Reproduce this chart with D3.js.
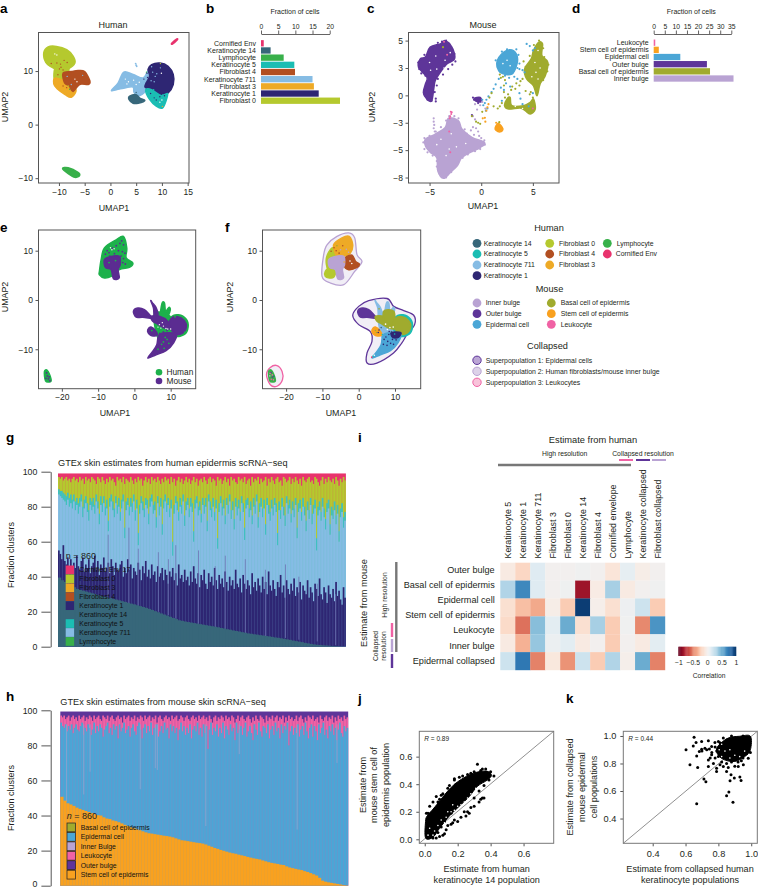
<!DOCTYPE html>
<html>
<head>
<meta charset="utf-8">
<script src="https://cdn.jsdelivr.net/npm/d3@7"></script>
<style>
  body { margin: 0; background: #fff; }
  text { font-family: "Liberation Sans", Arial, sans-serif; fill: #231f20; }
</style>
</head>
<body>
<script>
// ---- colours by cell population
const col = {
  k14: "#37677A", k5: "#1BBDB3", k711: "#86BCE4", k1: "#2E2673",
  f0: "#B5C92E", f4: "#B24F21", f3: "#EEAA26", lymph: "#38B04A", corn: "#E8336D",
  inner: "#B9A3D3", outer: "#5E3599", epi: "#4BA6D6", basal: "#A0AB2E", stem: "#F9A11F", leuk: "#F062A4",
  human: "#1DB14B", mouse: "#5B2C91"
};

// ---- panel b / d bars
const humanCats = ["Cornified Env", "Keratinocyte 14", "Lymphocyte", "Keratinocyte 5", "Fibroblast 4", "Keratinocyte 711", "Fibroblast 3", "Keratinocyte 1", "Fibroblast 0"];
const humanFrac = [0.8, 2.8, 6.6, 9.7, 9.9, 15, 15.4, 16.8, 23];
const humanCols = ["corn", "k14", "lymph", "k5", "f4", "k711", "f3", "k1", "f0"];
const mouseCats = ["Leukocyte", "Stem cell of epidermis", "Epidermal cell", "Outer bulge", "Basal cell of epidermis", "Inner bulge"];
const mouseFrac = [0.7, 2.3, 12, 24, 25.4, 36];
const mouseCols = ["leuk", "stem", "epi", "outer", "basal", "inner"];

// ---- panel a clusters (UMAP units, outlines)
const aF0 = [[-12.95,13.4],[-12.1,14.5],[-10.5,14.6],[-8.5,14],[-7.25,12.8],[-6.9,11.5],[-8.2,10.4],[-9.8,10.15],[-11.5,10.8],[-12.55,11.6]];
const aNeck = [[-10.6,10.8],[-8.2,10.8],[-8.3,9.3],[-8.9,8.2],[-10.8,8.2]];
const aF3 = [[-10.7,8.7],[-8.8,8.1],[-7.1,7.2],[-6.7,6.2],[-7.6,5.1],[-8.8,5.6],[-10.35,6.7],[-11,7.6]];
const aF4 = [[-9.2,9.6],[-7.6,9.9],[-6.3,10.1],[-5,9.9],[-4,8.2],[-4.3,7.5],[-6,7.5],[-7.25,6.2],[-8,7.2],[-8.9,7.8]];
const aLymph = [[-9.3,-8.2],[-8.2,-8.05],[-6.3,-8.9],[-6,-9.5],[-6.9,-9.85],[-8.2,-9.15]];
const aCorn = [[11.9,15.2],[12.9,16],[13,15.85],[12.05,15.05]];
const aK711 = [[0.2,6.4],[1.5,7.8],[2.6,9.8],[4.4,9.35],[6.35,8.7],[7.3,10],[8,9.6],[7.4,7.5],[6.9,6.3],[5.6,5.4],[4.6,6],[4.4,7],[3,6.9],[1.15,6.5]];
const aK711Dot = [[4.9,11.4],[5,11.1],[5.1,10.9]];
const aK1 = [[8,11.2],[9.6,11.5],[11.2,10.9],[12.2,9.35],[12.2,7.5],[11.2,5.9],[9.9,5.4],[8,6.5],[6.7,7.1],[7.6,9],[7.3,10.3]];
const aK5 = [[6.85,6.5],[8,6.5],[9.9,5.4],[11.1,5.8],[10.75,4.3],[10.1,3.1],[8.9,3.45],[7.6,4.7]];
const aK14 = [[3.75,5.3],[5,5.6],[5.7,4.95],[6.7,4.5],[5.4,4],[4.4,4],[3.6,4.7]];
const aSpecks = [
  ["f4",-11.5,11.4],["f4",-10.4,11.5],["f4",-9.7,11.3],["f4",-9.6,10.7],["f4",-9,12],["f4",-8.4,11.6],["f4",-9.9,10.4],["f4",-9.2,10.2],["f4",-10.2,9.3],
  ["f0",-8.2,7.2],["lymph",-7.9,6.6],["k711",-7.6,7.5],["k711",-5.4,9.2],["k711",-8.4,9],["f4",-8.5,6.9],["f4",-9.2,7.2],
  ["white",-10.8,13.2],["white",-10.4,13],["white",-6.9,8.5],["white",-6.5,8],
  ["lymph",7,9.8],
  ["white",2.9,8.5],["white",3.5,8],["white",4.5,8.3],["white",5,7.5],["white",3.2,7.6],["white",5.6,7.9],
  ["k711",8.5,8],["k711",9,9.5],["k711",8,10.8],["k711",9.7,10.6],["k711",7.9,8.2],["k711",8.7,9],["k711",8.2,9.8],["white",9.9,9.6],
  ["k1",6.5,8.5],["k1",7,7.8],["k1",7.2,8.8],["k1",7.6,7.2],["k1",7.1,9.6],["k1",6.8,7],["k5",8.4,6.5],["k5",10.2,5.6],
  ["k1",7.8,5.8],["k1",8.5,5],["k1",9.6,5.2],["k1",10.5,5.4],["k1",8.9,4.6],["white",9.6,4.2],["white",10,4.6],["f3",10.1,3.4],
  ["f0",9.7,11.4],["k14",5,6]
];

// ---- panel c clusters
const cOuter = [[-5.9,3.33],[-5.4,3.5],[-4.94,4.4],[-3.97,4.7],[-3.5,5],[-2.84,4.4],[-2.58,3.33],[-3.3,2.9],[-3.97,2.1],[-4.45,1.35],[-4.6,0.58],[-4.8,-0.5],[-5.25,-0.34],[-5.6,0.25],[-5.4,1.04],[-5.25,1.65],[-6.07,2.57]];
const cOuterSmall = [[-0.68,-0.27],[-0.1,-0.18],[0,-0.58],[-0.46,-0.55]];
const cInner = [[-3.16,-2.07],[-2.2,-2.32],[-1.87,-3.07],[-0.9,-3.84],[0.32,-4.3],[-0.1,-4.76],[-1.06,-5.2],[-1.9,-5.7],[-2.3,-6.4],[-3,-7.05],[-3.65,-7.57],[-4.2,-6.9],[-4.3,-5.7],[-4.94,-5.2],[-5.4,-4.6],[-5.4,-4],[-4.45,-3.54],[-3.48,-2.93]];
const cEpi = [[1.52,3.02],[2.16,3.94],[2.97,4.15],[3.46,3.64],[3.46,2.87],[2.97,1.95],[1.84,2.1]];
const cBasal = [[5.06,4.1],[5.55,4.85],[5.94,4.7],[5.87,3.64],[6.45,3.02],[6.2,1.8],[5.7,1.04],[5.4,-0.03],[5.06,0.88],[4.4,1.5],[4.2,2.4],[4.84,3.33]];
const cBasalLow = [[2.5,-0.33],[2.8,-0.18],[2.97,-0.94],[4.1,-0.94],[4.74,-0.64],[5.06,-0.33],[5.23,-1.25],[4.74,-1.7],[4.26,-1.4],[3.77,-1.16],[2.65,-1.25],[2.26,-0.94]];
const cStem = [[1.36,-2.93],[1.67,-2.56],[2.1,-3.07],[1.84,-3.33],[1.42,-3.17]];
const cInnerDots = [[-4.6,-2.1],[-4.6,-2.4],[-4.55,-2.7],[-4.6,-3],[-4.5,-3.3],[-3.9,-2.9],[-3.4,-2.3],[-3.1,-1.9],[-2.6,-1.9],[-2.2,-2.1],[-1.6,-3.1],[-1.4,-3.5],[-1,-3.2],[-0.8,-2.9],[-0.5,-3],[-0.3,-3.3],[-0.2,-3.7],[-0.7,-3.6],[0,-3.9],[0.3,-4.1],[0.35,-4.5],[-0.1,-4.9],[-0.6,-5.1],[-1.3,-5.4],[-1.8,-5.7],[-2.3,-6.1],[-2.6,-6.5],[-2.9,-7],[-3.4,-7.5],[-4,-7.2],[-4.3,-6.5],[-4.3,-6],[-4.7,-5.5],[-5.2,-5.2],[-5.5,-4.9],[-5.6,-4.3],[-5.5,-3.9],[-5,-3.7],[-4.4,-3.3],[-0.6,-0.8],[-0.1,-0.9],[-0.4,-1.3],[0.1,-0.6],[0.4,-1.2],[-0.8,-1.9],[-0.6,-2.2]];
const cOuterDots = [[-6.1,3],[-6,2.4],[-5.8,2],[-5.4,1.8],[-5.5,3.7],[-4.7,4.4],[-4.2,4.8],[-3.8,4.9],[-3.4,5],[-3.1,4.7],[-2.8,4.2],[-2.6,3.8],[-2.5,3.1],[-2.8,2.8],[-3.2,2.4],[-3.7,1.9],[-4.2,1.5],[-4.3,0.9],[-4.5,0.3],[-4.4,-0.3],[-4.8,-0.5],[-5.2,-0.4],[-5.5,0.1],[-5.5,0.5],[-4.4,-0.55],[-0.8,-0.2],[-0.7,-0.4],[-0.3,-0.7],[-0.9,-1.8]];
const cEpiDots = [[1.4,3.2],[1.6,2.6],[1.8,2.2],[2.3,1.8],[2.7,1.6],[3.2,1.7],[3.1,2.2],[3.5,2.5],[3.7,2.4],[4,2.3],[4.2,2.1],[3.7,2.9],[3.6,3.7],[3.4,4.2],[2.5,4.2],[2,4],[4.4,4.7],[4.7,4.5],[5,4.1],[5.2,4.3],[1.7,1.5],[1.4,1],[1.2,0.6],[1,0.3],[0.7,-0.1],[0.5,-0.4],[0.35,-0.7],[0.2,-0.9],[0.1,-0.4],[0.6,-1.2],[0.45,-1.4],[2,-0.5],[2.2,0.5],[3.7,0.2],[3.5,1.5],[4,-0.8],[3.8,-0.3],[2.4,1.1],[2.8,0.8],[4.6,-1],[1.9,0.7],[5,0.2]];
const cBasalDots = [[1.9,1.6],[1.8,1.9],[2.1,1.7],[2.3,1.4],[2.2,0.9],[2.2,0.3],[2.3,-0.2],[2.6,0.1],[2,-0.7],[1.8,-1],[1.6,-1.2],[1.2,-1],[3,0.8],[3.4,1.1],[3.8,1.3],[4,1.5],[3.7,0.9],[3.3,0.6],[2.9,0.5],[4.3,0.4],[4.8,0.3],[5,-0.2],[4.7,0.1],[4.3,2.6],[4.1,3.1],[4.7,3.6],[5.1,4.6],[5.6,5],[6,4.3],[6.1,3.5],[6.5,2.8],[6.4,2.2],[6,1.4],[5.4,0.6],[-0.5,-2.4],[-0.3,-2.5],[-0.1,-2.6],[-0.9,-1.9],[0.1,-1.5],[1,0.2],[0.8,-0.2],[1.75,-2.45],[-3.7,4.4]];
const cStemDots = [[0.6,-1.1],[0.7,-0.8],[0.5,-1.4],[0.15,-2.1],[0.4,-2.4],[1.45,-2.5],[0.35,-2.05]];
const cLeukDots = [[-2.95,-1.5],[-2.9,-1.7],[-3,-1.9],[-3.05,-2.1],[-2.85,-1.55],[-3.3,3.7],[-3.6,4.9],[-3.1,-3.3],[-3,-5.2],[5,-1.2]];
const cHoles = [[-5,3],[-4.4,3.6],[-3.5,3.2],[-3.6,2.5],[-4.3,2.4],[-3,3.9],[-4.9,2.3],[-3.9,-4],[-2.9,-3.5],[-3.4,-5.5],[-2.4,-4.7],[-1.5,-4.4],[-4.3,-4.5],[-3.1,-4.9],[2.5,3.2],[2.8,2.7],[2.1,2.9],[5.2,3],[5.3,2.1],[5.7,2.5],[5.5,4.1],[4.9,1.7],[5.5,1.5],[4,-1.2],[3.3,-1]];

// ---- panels e and f clusters (same embedding)
const eGreenUp = [[-9.64,5.82],[-9.17,8.18],[-8.26,10.55],[-5.04,12.2],[-3.03,12.9],[-2.1,10.55],[-2.27,8.55],[-0.44,7.5],[-1.38,6.63],[-4.13,6.15],[-6.4,4.8],[-8.26,4.46],[-9.64,5.1]];
const ePurpleUp = [[-8.26,8.18],[-6.42,8.85],[-4.13,8.85],[-3.9,7.16],[-4.5,6.15],[-4.2,4.46],[-5.79,4.33],[-6.42,6.15],[-8,6.6]];
const eLeftBlob = [[-0.27,-2.3],[0.93,-1.62],[2.75,-1.96],[4.6,-3.3],[5.5,-3.8],[2.3,-3.5],[0.5,-3.5]];
const eStrand1 = [[4.5,-0.13],[5,-0.6],[6,-1.6],[6.5,-3.1],[5.5,-3.3],[5.25,-1.6]];
const eStrand2 = [[7.6,-0.7],[8.3,-0.6],[8.6,-2.3],[9.5,-1.5],[9.9,-2],[9.2,-3.3],[8,-4.3],[7.1,-3.6]];
const eCentre = [[5.5,-2.8],[8.26,-2.6],[10.1,-3.65],[11,-6],[9.64,-7.4],[6.9,-8],[5.8,-6]];
const eMidBand = [[4.6,-3.3],[6.9,-3.3],[9.2,-4.3],[10.1,-5.7],[8.3,-5.7],[6,-4.7],[5,-4.3]];
const eCircle = [[10.1,-3.8],[11.9,-3.4],[13.8,-4.2],[14.3,-5.5],[13.3,-6.7],[11.3,-6.9],[9.64,-5.3]];
const eRing = [[10.1,-3.5],[12.2,-3],[14.3,-3.9],[14.8,-5.5],[13.8,-7],[11.3,-7.3],[9.5,-5.7]];
const eSmallBlob = [[3.7,-6],[4.6,-5.5],[6,-6.4],[6.2,-7.2],[4.6,-7.2],[3.8,-6.7]];
const eCrescent = [[7.08,-6.9],[11.5,-6.9],[10.75,-8.75],[8.73,-10.3],[5.98,-11.1],[3.7,-11.8],[5.07,-10.4],[6.17,-9.07]];
const eTiny = [[-24.8,-14.5],[-24,-14.3],[-23,-16],[-23.2,-16.6],[-24.5,-16.4]];
const ePurpleSpecks = [[-7.5,10],[-6,10.5],[-5,11],[-4,11.5],[-3.5,12],[-3,11.2],[-3.3,9.8],[-4.4,10],[-5.5,9.4],[-7,9.6],[-8,9.3],[-3,8.4],[-2.6,9.5],[-3.2,7.6],[-2.5,7.3],[-7.5,7.6],[-6.8,8.9],[-3.7,8.9],[-24.2,-14.8],[-24,-15.4],[-23.7,-16],[-23.5,-15.6],[-24.4,-15.9],[-23.3,-16.4],[6.5,-4.8],[7.5,-5],[8,-6.5],[7,-6.8],[6.8,-7.4],[9,-6.2],[8.6,-7.3]];
const eGreenSpecks = [[8,-8.5],[9,-8],[7.5,-9],[9.5,-8.8],[6.5,-10],[8.2,-9.8],[8.5,-7.6],[-7,7.6],[-5.2,8],[11.2,-3.4],[13.9,-6.6],[4.8,-6.2]];
const eWhiteSpecks = [[-6.6,10.6],[-6.2,10.2],[-5.6,10.4],[6.5,-5.5],[7.3,-5.7],[8,-5.3],[9.2,-5.9],[10,-5.9],[7.7,-4.6],[6.9,-5],[8.7,-5.8]];
const fOrange = [[-6.9,11.2],[-4.6,12.6],[-2.6,12.9],[-1.65,11.2],[-2.3,9.5],[-4.13,8.85],[-6,8.85]];
const fBrown = [[-3.7,8.55],[-1.85,9.1],[-0.9,7.85],[0.17,7.3],[-0.47,6.6],[-2.75,6.15],[-4.13,7.16]];
const fLimeBall = [[-9.2,5.8],[-7.8,6.6],[-6.4,5.8],[-6.9,4.6],[-8.1,4.46],[-9.2,4.8]];
const fLimeArm = [[-8.9,8.5],[-7.35,10.55],[-6.2,9.4],[-6.9,6.6],[-8.5,6.2]];
const fOliveMid = [[6.9,-2.3],[9.64,-2.3],[9.64,-4.7],[7.33,-5]];
const fNavyMid = [[9,-6.6],[11.6,-6.6],[10.9,-7.6],[9.4,-7.6]];
const fHullTop = [[-10.1,4.8],[-9.64,9.2],[-8.73,11.2],[-5.98,12.9],[-2.75,13.6],[-1.1,12.6],[-0.47,9.2],[0.9,7.8],[-1.1,5.8],[-4.1,3.1],[-7.8,3.45]];
const fHullLow = [[-1.65,-3.1],[0,-1.3],[2.75,-0.13],[7.8,0.3],[9.64,-1.3],[12.4,-2.16],[15.15,-3.1],[15.4,-5],[13.3,-7],[11.9,-8.7],[9.6,-10.75],[5,-12.8],[2.3,-12.8],[2.3,-10.75],[3.66,-8.4],[3.2,-6.4],[0,-5]];
const fHullTiny = [[-25.4,-15.15],[-24.35,-13.7],[-22.5,-13.3],[-21.1,-14.5],[-21,-16.2],[-22.5,-17.5],[-24.35,-17.2]];
const fSpecks = [
  ["f4",-6.8,10.6],["f4",-6.2,10],["f4",-5.4,9.5],["f4",-7.6,9.9],["f4",-4.4,11],["inner",-5,10.2],["inner",-3.4,10.3],["inner",-2.8,9.7],["basal",-6,11],
  ["white",-2.4,7.9],["white",-1.9,7.4],["f3",-4,7.7],
  ["k1",7.5,-7.5],["k1",8.3,-7],["k1",9.3,-8],["k1",8,-8.4],["k1",9.6,-9],["k1",7,-8],["k1",8.8,-8.8],["k1",10.3,-8.1],["k1",7.8,-9.2],["k1",6.8,-9],
  ["k1",8.4,-6.4],["k14",6.2,-5.6],["k14",9,-6.4],["k5",9.9,-6.9],["k5",6.5,-7],["white",7.4,-4.9],["white",8.6,-5.6],["white",9.5,-5.5],["white",7.9,-6],
  ["basal",4.6,-6.2],["basal",4.9,-6.6],["k1",5.4,-6.6],["k1",5.6,-6.1],["basal",5.6,-1.8],["corn",3.6,-11.6],["k5",4,-11.4],["white",4.3,-11.2],
  ["leuk",-24.4,-14.9],["leuk",-23.8,-15.2],["leuk",-23.5,-16.2],["leuk",-24.1,-16.1],["outer",-24.1,-14.7],["outer",-23.8,-15.7],["inner",-24.5,-15.4],["k14",-23.4,-15.5]
];

// ---- panel g, boundaries between stacked populations read along the x axis
const gK14Top = [39.5,38,37,36,35,34,33,32.5,32,31.5,31,30.5,
  30,29.5,29,28.6,28.2,27.8,27.3,26.9,26.5,26,25.6,25.1,
  24.6,24.2,23.7,23.2,22.7,22.2,21.6,21,20.3,19.7,19,18.4,
  17.8,17.1,16.4,15.8,15.1,14.8,14.4,14.1,13.8,13.5,13.2,12.9,
  12.6,12.3,12,11.7,11.4,11.1,10.7,10.4,10,9.7,9.3,9,
  8.7,8.3,8,7.6,7.4,7.1,6.9,6.6,6.4,6.1,5.9,5.6,
  5.3,5.1,4.8,4.5,4.2,3.9,3.5,3.2,2.9,2.6,2.2,1.9,
  1.6,1.3,1.1,1,0.8,0.7,0.6,0.4,0.3,0.2,0.1,0];
const gK1Top = [55,53,50,58,49,47,51,46,50,44,48,45,
  52,46,44,49,51,43,47,45,50,42,46,48,
  52,44,49,41,47,45,51,43,45,48,42,50,
  46,41,48,44,43,47,49,40,45,42,50,44,
  47,39,45,43,41,48,44,38,46,42,49,40,
  44,39,47,41,43,37,46,40,42,45,38,44,
  41,36,43,40,45,38,42,35,47,39,41,37,
  44,38,40,35,43,37,46,39,36,42,34,41,
  38,44,36,33,42,37,40,35,45,38,33,41,
  36,39,34,43,37,32,40,35,38,33,44,36,
  34,39,31,41,36,33,38,35,30,42,34,37,
  32,39,35,31,40,33,37,30,43,35,32,38,
  33,29,37,34,41,31,35,28,38,33,30,36,
  32,39,29,34,31,37,27,35,32,30,38,28,
  34,31,26,36,33,29,39,30,27,34,31,25,
  35,30,28,33,26,37,29,32,27,24,34,28];
const gK711Top = [87,86,85,84,83,81,84,80,82,79,83,78,
  81,76,80,83,74,79,82,77,72,81,78,80,
  76,83,79,70,81,77,82,75,79,66,80,83,
  78,74,82,76,80,72,79,83,62,78,81,75,
  80,77,83,72,79,58,76,82,78,74,81,79,
  70,80,83,76,78,68,82,75,80,64,79,83,
  77,81,74,79,52,76,82,78,72,80,76,83,
  69,78,81,74,80,77,60,79,82,75,78,71,
  81,76,80,66,83,78,74,80,72,79,56,77,
  82,75,79,70,81,76,83,73,78,67,80,75,
  79,72,82,77,61,79,81,74,78,70,80,76,
  83,68,77,80,74,79,64,81,76,72,79,75,
  81,77,58,78,73,80,75,69,82,76,79,71,
  78,74,81,62,77,79,72,80,75,66,78,73,
  81,70,76,79,55,75,78,72,80,74,67,77,
  79,64,75,73,78,70,76,60,74,77,68,72];
const gK5Top = [90,89,89,88,87,86,88,85,87,84,87,83,
  85,82,85,87,80,84,86,82,78,85,83,85,
  81,87,83,76,86,82,86,80,84,72,85,87,
  83,79,86,81,85,77,84,87,68,83,85,80,
  85,82,87,78,84,65,81,86,83,79,85,84,
  76,85,87,81,83,74,86,80,85,70,84,87,
  82,85,79,84,60,81,86,83,77,85,81,87,
  75,83,85,79,85,82,66,84,86,80,83,76,
  85,81,85,72,87,83,79,85,77,84,62,82,
  86,80,84,75,85,81,87,78,83,73,85,80,
  84,77,86,82,68,84,85,79,83,75,85,81,
  87,74,82,85,79,84,70,85,81,77,84,80,
  85,82,65,83,78,85,80,75,86,81,84,76,
  83,79,85,68,82,84,77,85,80,72,83,78,
  85,76,81,84,62,80,83,77,85,79,73,82,
  84,70,80,78,83,75,81,66,79,82,74,77];
const gF0Top = [97,96,97,95,96,97,95,96,94,96,97,95,
  96,94,97,95,96,93,97,95,96,94,97,96,
  95,93,97,96,94,97,95,93,96,94,97,95,
  96,94,92,97,95,96,94,97,93,96,95,94,
  97,95,93,96,94,97,95,96,92,95,97,94,
  96,93,97,95,96,94,97,95,93,96,94,97,
  95,96,93,97,94,96,92,95,97,94,96,93,
  95,97,94,96,93,95,97,94,96,92,95,96,
  94,97,95,93,96,97,94,96,95,92,97,95,
  96,93,95,97,94,96,92,97,95,96,94,93,
  97,95,96,94,97,93,95,96,92,97,94,96,
  95,97,93,96,94,95,97,92,96,94,97,95,
  93,96,97,94,95,92,97,96,94,95,97,93,
  96,94,97,95,93,96,92,97,95,94,96,97,
  94,95,93,97,96,94,92,95,97,93,96,94,
  97,95,94,96,93,97,95,92,96,94,97,95];
const gTopAll = 99;
const gPaleAt = [150,212,240,300,330,352,420,470,500,560,620,680,720,775,830];
const gPaleLow = [26,24,22,20,18,16,13,10,9,7,6,5,4,3,1];
const gPaleHigh = [64,68,56,54,50,58,55,46,52,50,44,47,40,36,30];
const gLegend = ["Cornified Env 17", "Fibroblast 0", "Fibroblast 3", "Fibroblast 4", "Keratinocyte 1", "Keratinocyte 14", "Keratinocyte 5", "Keratinocyte 711", "Lymphocyte"];
const gLegendCols = ["corn", "f0", "f3", "f4", "k1", "k14", "k5", "k711", "lymph"];

// ---- panel h
const hStemTop = [50.7,48.5,47,46.3,45.5,44.5,43.8,43.2,42.6,42,41.4,40.8,
  40.2,40,39,38.3,38,37.2,36.8,36.2,35.5,34.7,34,33.3,
  32.8,32.2,31.6,31,30.4,29.9,29.7,29.4,29.1,28.8,28.5,28.3,
  28,27.6,27,26.4,25.9,25.7,25.4,25.1,24.8,24.5,24.3,24,
  23.5,22.8,22.2,21.5,21,20.4,19.9,19.4,18.9,18.5,18.2,17.7,
  17.3,16.9,16.4,16,15.6,15.3,15,14.4,13.9,13.4,13,12.7,
  12.4,12,11.8,11,10.4,10,9.6,9.2,8.9,8.3,7.8,7.2,
  6.5,5.8,4.5,2.9,2.3,1.9,1.6,1.3,1,0.7,0.4,0.2];
const hEpiTop = [93,91,90,92,88,91,89,92,87,90,92,89,
  88,91,93,86,90,88,92,90,86,89,93,87,
  91,88,92,90,85,89,91,93,87,90,86,92,
  89,91,84,92,88,90,93,87,89,91,85,90,
  92,88,86,91,93,89,84,90,92,87,91,88,
  93,86,90,89,92,85,88,91,87,93,89,90,
  84,92,88,91,87,90,83,89,93,88,91,86,
  90,87,92,84,89,91,88,93,86,90,85,92,
  87,91,78,89,93,86,90,88,92,85,90,87,
  93,84,91,89,86,92,88,90,83,93,87,89,
  91,86,90,93,85,88,91,87,83,92,89,86,
  93,88,85,91,90,87,92,84,89,91,86,93,
  88,90,84,92,87,91,89,93,80,88,91,86,
  90,87,92,85,89,91,86,93,88,84,90,92,
  85,91,88,83,92,87,90,93,86,89,84,91,
  88,92,86,90,83,89,93,87,85,91,88,90];
const hLeukTop = [97,96,97,95,96,97,94,96,97,95,96,94,
  97,95,96,97,94,96,95,97,96,94,97,95,
  96,97,95,94,97,96,95,97,94,96,97,95,
  94,96,97,95,96,93,97,95,96,97,94,96,
  95,97,94,96,95,97,96,94,97,95,96,97,
  94,96,95,97,93,96,97,95,94,96,97,95,
  96,94,97,95,96,97,94,95,97,96,94,96,
  97,95,94,96,97,95,96,94,97,95,96,97,
  95,96,94,97,95,93,96,97,94,96,95,97,
  96,94,97,95,96,94,97,96,93,95,97,94,
  96,97,95,94,96,97,95,93,96,94,97,95,
  94,97,96,95,93,97,94,96,95,97,94,96,
  97,94,96,95,97,93,96,94,97,95,96,94,
  95,97,94,96,97,95,93,96,94,97,96,95,
  97,94,95,96,93,97,95,94,96,97,94,96,
  95,97,93,96,94,97,95,96,94,97,95,96];
const hTopAll = 99.3;
const hPaleAt = [19,70,89,239,284,290,435,535,708,827];
const hPaleLow = [48,52,65,55,67,66,34,75,32,70];
const hLegend = ["Basal cell of epidermis", "Epidermal cell", "Inner Bulge", "Leukocyte", "Outer bulge", "Stem cell of epidermis"];
const hLegendCols = ["basal", "epi", "inner", "leuk", "outer", "stem"];

// ---- panel i heatmap
const heatCols = ["Keratinocyte 5", "Keratinocyte 1", "Keratinocyte 711", "Fibroblast 3", "Fibroblast 0", "Keratinocyte 14", "Fibroblast 4", "Cornified envelope", "Lymphocyte", "Keratinocyte collapsed", "Fibroblast collapsed"];
const heatRowLabels = ["Outer bulge", "Basal cell of epidermis", "Epidermal cell", "Stem cell of epidermis", "Leukocyte", "Inner bulge", "Epidermal collapsed"];
const heatR1 = [-0.08,-0.2,0.12,0,0,0.02,0,-0.12,0.08,-0.05,0];
const heatR2 = [0.3,0.65,0.12,0,0.03,-0.85,-0.07,0.33,-0.08,0,0.02];
const heatR3 = [-0.15,-0.3,-0.38,-0.05,-0.25,0.95,-0.03,-0.15,0.04,0.2,-0.25];
const heatR4 = [-0.18,-0.55,0.42,0.1,0.5,-0.15,0.33,-0.25,0.02,-0.48,0.6];
const heatR5 = [-0.08,-0.35,0.38,0.05,0.1,-0.08,0,-0.25,0,-0.08,0.1];
const heatR6 = [0.2,0.72,-0.5,-0.1,-0.45,0.2,-0.25,0.3,-0.03,0.5,-0.5];

// ---- panels j and k scatter
const jCore = [[0.005,0.01],[0.005,0.13],[0.015,0.17],[0.055,0.225],[0.095,0.285],[0.155,0.37],[0.215,0.43],[0.296,0.48],[0.375,0.495],[0.405,0.465],[0.38,0.43],[0.32,0.385],[0.27,0.31],[0.21,0.24],[0.15,0.17],[0.09,0.08],[0.05,0.015]];
const jPoints = [[0.32,0.545],[0.37,0.51],[0.4,0.49],[0.42,0.46],[0.34,0.5],[0.28,0.48],[0.26,0.47],[0.18,0.44],[0.18,0.43],[0.14,0.37],[0.11,0.33],[0.07,0.31],[0.1,0.32],[0.05,0.27],[0.03,0.24],[0.02,0.19],[0.01,0.19],[0.035,0.185],[0.34,0.29],[0.35,0.3],[0.36,0.3],[0.33,0.27],[0.3,0.24],[0.28,0.23],[0.26,0.2],[0.24,0.2],[0.22,0.16],[0.2,0.13],[0.18,0.14],[0.16,0.11],[0.14,0.1],[0.12,0.04],[0.11,0.03],[0.09,0.02],[0.07,0.01],[0.05,0.01],[0.13,0.07],[0.17,0.12],[0.25,0.17],[0.27,0.19],[0.24,0.3],[0.3,0.3],[0.33,0.35],[0.36,0.39],[0.39,0.43],[0.2,0.25],[0.16,0.19],[0.12,0.13],[0.1,0.09],[0.08,0.05],[0.19,0.4],[0.23,0.46],[0.12,0.3],[0.08,0.27],[0.06,0.22],[0.3,0.49],[0.35,0.51],[0.15,0.39],[0.21,0.45],[0.09,0.29]];
const jGaps = [[0.05,0.03],[0.08,0.1],[0.06,0.06],[0.09,0.06],[0.13,0.16],[0.12,0.12],[0.16,0.2],[0.18,0.21],[0.2,0.24],[0.1,0.14],[0.22,0.25],[0.24,0.27],[0.26,0.3],[0.14,0.2],[0.03,0.08],[0.28,0.33],[0.31,0.37],[0.17,0.25],[0.02,0.03]];
const kCore = [[0.8,0.93],[0.86,0.985],[0.93,0.998],[0.995,0.998],[0.995,0.9],[0.96,0.85],[0.9,0.815],[0.83,0.83],[0.79,0.88]];
const kPoints = [[0.652,0.99],[0.664,0.952],[0.647,0.928],[0.603,0.899],[0.698,0.959],[0.739,0.966],[0.684,0.887],[0.698,0.904],[0.668,0.855],[0.627,0.79],[0.674,0.771],[0.712,0.687],[0.724,0.667],[0.668,0.508],[0.864,0.593],[0.85,0.566],[0.889,0.518],[0.877,0.718],[0.897,0.694],[0.931,0.701],[0.938,0.677],[0.871,0.675],[0.83,0.778],[0.789,0.766],[0.739,0.778],[0.739,0.826],[0.759,0.863],[0.729,0.899],[0.759,0.923],[0.779,0.952],[0.789,0.742],[0.85,0.742],[0.921,0.778],[0.952,0.79],[0.982,0.838],[0.718,0.911],[0.75,0.84],[0.77,0.8],[0.81,0.79],[0.86,0.77],[0.9,0.78],[0.94,0.82],[0.8,0.96],[0.83,0.985],[0.88,1],[0.95,1],[0.745,0.905],[0.7,0.89],[0.79,0.89],[0.78,0.84],[0.8,0.85],[0.82,0.81],[0.85,0.8],[0.88,0.81],[0.92,0.81],[0.95,0.84],[0.97,0.87],[0.995,0.88],[0.78,0.92],[0.81,0.95],[0.85,0.97],[0.8,0.91],[0.76,0.88]];
const kGaps = [[0.82,0.85],[0.87,0.84],[0.805,0.9],[0.93,0.85],[0.84,0.89],[0.82,0.94],[0.9,0.86],[0.87,0.9],[0.96,0.89]];

// ---- svg
const svg = d3.select("body").append("svg").attr("width", 758).attr("height", 889);

function label(x, y, str, size, anchor, rotate, weight) {
  const t = svg.append("text").attr("font-size", size).attr("text-anchor", anchor || "start");
  if (rotate) t.attr("transform", `translate(${x},${y}) rotate(${rotate})`);
  else t.attr("x", x).attr("y", y);
  if (weight) t.attr("font-weight", weight);
  t.text(str);
  return t;
}

// panel letters
[["a",0,12.5],["b",206,12.5],["c",367,12.5],["d",572,12.5],["e",0,232],["f",225,232],["g",6,442],["h",6,701],["i",358,442],["j",358,703],["k",566,703]]
  .forEach(d => label(d[1], d[2], d[0], 13.5, "start", 0, "bold").style("fill", "#000"));

const blob = (x, y) => d3.line().x(d => x(d[0])).y(d => y(d[1])).curve(d3.curveCatmullRomClosed.alpha(0));
function addBlob(g, x, y, pts, color) {
  g.append("path").attr("d", blob(x, y)(pts)).attr("fill", color).attr("stroke", color).attr("stroke-width", 1.5).attr("stroke-linejoin", "round");
}
function addDots(g, x, y, pts, color, r) {
  g.selectAll(null).data(pts).enter().append("circle")
    .attr("cx", d => x(d[0])).attr("cy", d => y(d[1])).attr("r", r).attr("fill", color);
}
function addSpecks(g, x, y, list, r) {
  g.selectAll(null).data(list).enter().append("circle")
    .attr("cx", d => x(d[1])).attr("cy", d => y(d[2])).attr("r", r)
    .attr("fill", d => d[0] === "white" ? "#fff" : col[d[0]]);
}

// frame and axes shared by the UMAP panels
function umapFrame(box, xDom, yDom, xTicks, yTicks, fs) {
  const x = d3.scaleLinear().domain(xDom).range([box.l, box.r]);
  const y = d3.scaleLinear().domain(yDom).range([box.b, box.t]);
  const g = svg.append("g");
  const ax = svg.append("g").attr("transform", `translate(0,${box.b})`).call(d3.axisBottom(x).tickValues(xTicks).tickSize(3).tickPadding(2.5));
  const ay = svg.append("g").attr("transform", `translate(${box.l},0)`).call(d3.axisLeft(y).tickValues(yTicks).tickSize(3).tickPadding(2.5));
  [ax, ay].forEach(a => {
    a.select(".domain").remove();
    a.selectAll("text").attr("font-size", fs).attr("font-family", "Liberation Sans").attr("fill", "#231f20");
    a.selectAll("line").attr("stroke", "#555");
  });
  return { x, y, g, box };
}
function closeFrame(p) {
  svg.append("rect").attr("x", p.box.l).attr("y", p.box.t).attr("width", p.box.r - p.box.l).attr("height", p.box.b - p.box.t)
    .attr("fill", "none").attr("stroke", "#555").attr("stroke-width", 1);
}

// a
const pa = umapFrame({ l: 38.5, r: 189, t: 32.5, b: 183 }, [-13.97, 15.26], [-10.9, 17.2], [-10, -5, 0, 5, 10, 15], [-10, 0, 10], 8.5);
[[aF0, "f0"], [aNeck, "f0"], [aF3, "f3"], [aF4, "f4"], [aLymph, "lymph"], [aK711, "k711"], [aK1, "k1"], [aK5, "k5"], [aK14, "k14"], [aCorn, "corn"]]
  .forEach(d => addBlob(pa.g, pa.x, pa.y, d[0], col[d[1]]));
addDots(pa.g, pa.x, pa.y, aK711Dot, col.k711, 0.9);
addSpecks(pa.g, pa.x, pa.y, aSpecks, 0.7);
closeFrame(pa);
label(113, 28, "Human", 9, "middle");
label(114, 211, "UMAP1", 8.9, "middle");
label(8, 107, "UMAP2", 8.9, "middle", -90);

// b and d, horizontal bars with axis on top
function fracBars(cats, vals, cols, xRange, xMax, ticks, yRange, labelX, titleX) {
  const x = d3.scaleLinear().domain([0, xMax]).range(xRange);
  const y = d3.scaleBand().domain(cats).range(yRange).paddingInner(0.12).paddingOuter(0.06);
  svg.selectAll(null).data(cats).enter().append("rect")
    .attr("x", x(0)).attr("y", d => y(d)).attr("height", y.bandwidth())
    .attr("width", (d, i) => x(vals[i]) - x(0))
    .attr("fill", (d, i) => col[cols[i]]);
  svg.selectAll(null).data(cats).enter().append("text")
    .attr("x", labelX).attr("y", d => y(d) + y.bandwidth() / 2 + 2.4)
    .attr("text-anchor", "end").attr("font-size", 7).text(d => d);
  const a = svg.append("g").attr("transform", "translate(0,34)").call(d3.axisTop(x).tickValues(ticks).tickSize(3.5).tickSizeOuter(0).tickPadding(2));
  a.selectAll("text").attr("font-size", 6.8).attr("font-family", "Liberation Sans").attr("fill", "#231f20");
  a.selectAll("line,path").attr("stroke", "#231f20").attr("stroke-width", 0.7);
  label(titleX, 13.5, "Fraction of cells", 7, "middle");
}
fracBars(humanCats, humanFrac, humanCols, [261, 329.7], 20, [0, 5, 10, 15, 20], [39.7, 104.3], 256, 295);
fracBars(mouseCats, mouseFrac, mouseCols, [653.7, 731.3], 35, [0, 5, 10, 15, 20, 25, 30, 35], [39.1, 82.1], 648.7, 691.3);

// c
const pc = umapFrame({ l: 408.5, r: 559, t: 32.5, b: 183 }, [-7.04, 7.53], [-8.0, 5.74], [-5, 0, 5], [-7.5, -5, -2.5, 0, 2.5, 5], 8.5);
[[cInner, "inner"], [cOuter, "outer"], [cOuterSmall, "outer"], [cEpi, "epi"], [cBasal, "basal"], [cBasalLow, "basal"], [cStem, "stem"]]
  .forEach(d => addBlob(pc.g, pc.x, pc.y, d[0], col[d[1]]));
addDots(pc.g, pc.x, pc.y, cHoles, "#fff", 0.8);
addDots(pc.g, pc.x, pc.y, cInnerDots, col.inner, 1.1);
addDots(pc.g, pc.x, pc.y, cOuterDots, col.outer, 1.1);
addDots(pc.g, pc.x, pc.y, cEpiDots, col.epi, 1.1);
addDots(pc.g, pc.x, pc.y, cBasalDots, col.basal, 1.1);
addDots(pc.g, pc.x, pc.y, cStemDots, col.stem, 1.1);
addDots(pc.g, pc.x, pc.y, cLeukDots, col.leuk, 1);
closeFrame(pc);
label(483, 28, "Mouse", 9, "middle");
label(483, 209, "UMAP1", 8.9, "middle");
label(375, 107, "UMAP2", 8.9, "middle", -90);

// e
const eDomX = [-26.44, 16.9], eDomY = [-18, 14.2];
const pe = umapFrame({ l: 38.5, r: 195.7, t: 230, b: 388.7 }, eDomX, eDomY, [-20, -10, 0, 10], [-10, 0, 10], 8.5);
[[eGreenUp, "human"], [ePurpleUp, "mouse"], [eStrand2, "human"], [eCentre, "human"], [eRing, "human"], [eLeftBlob, "mouse"], [eStrand1, "mouse"], [eMidBand, "mouse"], [eCircle, "mouse"], [eSmallBlob, "mouse"], [eCrescent, "mouse"], [eTiny, "human"]]
  .forEach(d => addBlob(pe.g, pe.x, pe.y, d[0], col[d[1]]));
addDots(pe.g, pe.x, pe.y, ePurpleSpecks, col.mouse, 0.9);
addDots(pe.g, pe.x, pe.y, eGreenSpecks, col.human, 0.9);
addDots(pe.g, pe.x, pe.y, eWhiteSpecks, "#fff", 0.7);
closeFrame(pe);
pe.g.append("circle").attr("cx", 159).attr("cy", 372.3).attr("r", 3.3).attr("fill", col.human);
pe.g.append("circle").attr("cx", 159).attr("cy", 381).attr("r", 3.3).attr("fill", col.mouse);
label(166.5, 375.2, "Human", 8.3);
label(166.5, 384, "Mouse", 8.3);
label(115, 416, "UMAP1", 8.9, "middle");
label(8, 297, "UMAP2", 8.9, "middle", -90);

// f
const pf = umapFrame({ l: 262.5, r: 420.7, t: 230, b: 388.7 }, [-26.5, 17.08], eDomY, [-20, -10, 0, 10], [-10, 0, 10], 8.5);
[[fHullTop, col.inner], [fHullLow, col.outer], [fHullTiny, col.leuk]].forEach(d => {
  pf.g.append("path").attr("d", blob(pf.x, pf.y)(d[0])).attr("fill", "#F1EEF6").attr("stroke", d[1]).attr("stroke-width", 1.3);
});
[[fLimeArm, "f0"], [fLimeBall, "f0"], [fOrange, "f3"], [fBrown, "f4"], [ePurpleUp, "inner"],
 [eStrand2, "k711"], [eCentre, "k711"], [eRing, "k5"], [eLeftBlob, "outer"], [eStrand1, "k711"], [eMidBand, "basal"], [fOliveMid, "basal"], [eCircle, "basal"], [eSmallBlob, "stem"], [eCrescent, "epi"], [fNavyMid, "k1"], [eTiny, "lymph"]]
  .forEach(d => addBlob(pf.g, pf.x, pf.y, d[0], col[d[1]]));
addSpecks(pf.g, pf.x, pf.y, fSpecks, 0.8);
closeFrame(pf);
label(341, 416, "UMAP1", 8.9, "middle");
label(233, 297, "UMAP2", 8.9, "middle", -90);

// legend of e/f
label(549, 231, "Human", 9.2, "middle");
label(549.5, 292, "Mouse", 9.2, "middle");
label(547.5, 348.5, "Collapsed", 9.2, "middle");
function legendRow(cx, cy, tx, name, color) {
  svg.append("circle").attr("cx", cx).attr("cy", cy).attr("r", 4.4).attr("fill", color);
  label(tx, cy + 2.4, name, 6.9);
}
const legHuman = [[477,243.3,483.7,"Keratinocyte 14","k14"],[477,254,483.7,"Keratinocyte 5","k5"],[477,265,483.7,"Keratinocyte 711","k711"],[477,275.7,483.7,"Keratinocyte 1","k1"],
  [549.7,243.3,559,"Fibroblast 0","f0"],[549.7,254,559,"Fibroblast 4","f4"],[549.7,265,559,"Fibroblast 3","f3"],
  [607.3,243.3,616.7,"Lymphocyte","lymph"],[607.3,254,615.7,"Cornified Env","corn"]];
const legMouse = [[477,303,485.7,"Inner bulge","inner"],[477,313.7,485.7,"Outer bulge","outer"],[477,324.3,485.7,"Epidermal cell","epi"],
  [551.3,303,560.7,"Basal cell of epidermis","basal"],[551.3,313.7,560.7,"Stem cell of epidermis","stem"],[551.3,324.3,560.7,"Leukocyte","leuk"]];
legHuman.concat(legMouse).forEach(d => legendRow(d[0], d[1], d[2], d[3], col[d[4]]));
[[360.3,"Superpopulation 1: Epidermal cells","#BBA6D5",col.outer],[371.3,"Superpopulation 2: Human fibroblasts/mouse inner bulge","#DDD2E9",col.inner],[382.3,"Superpopulation 3: Leukocytes","#F8C3DA",col.leuk]]
  .forEach(d => {
    svg.append("circle").attr("cx", 477).attr("cy", d[0]).attr("r", 4.2).attr("fill", d[2]).attr("stroke", d[3]).attr("stroke-width", 1);
    label(485.7, d[0] + 2.4, d[1], 6.9);
  });

// stacked panels g and h
function percentAxis(y) {
  const a = svg.append("g").attr("transform", "translate(50.7,0)").call(d3.axisLeft(y).tickValues([0, 20, 40, 60, 80, 100]).tickSize(9.3).tickPadding(4).tickSizeOuter(0));
  a.selectAll("text").attr("font-size", 8.8).attr("font-family", "Liberation Sans").attr("fill", "#231f20");
  a.selectAll("line,path").attr("stroke", "#555");
  return a;
}
function stackColumn(xRange, y, vals, color) {
  const x = d3.scaleBand().domain(d3.range(vals.length)).range(xRange);
  svg.append("g").selectAll("rect").data(vals).enter().append("rect")
    .attr("x", (d, i) => x(i)).attr("width", x.bandwidth() + 0.2)
    .attr("y", d => y(d)).attr("height", d => y(0) - y(d))
    .attr("fill", color);
}

const gY = d3.scaleLinear().domain([0, 100]).range([646.7, 471.7]);
const gRange = [58, 345.7];
const gSample = d3.scaleLinear().domain([0, 860]).range(gRange);
stackColumn(gRange, gY, [gTopAll], col.corn);
stackColumn(gRange, gY, gF0Top, col.f0);
stackColumn(gRange, gY, gK5Top, "#3FC0C0");
stackColumn(gRange, gY, gK711Top, col.k711);
stackColumn(gRange, gY, gK1Top, col.k1);
svg.append("g").selectAll("line").data(gPaleAt).enter().append("line")
  .attr("x1", d => gSample(d)).attr("x2", d => gSample(d))
  .attr("y1", (d, i) => gY(gPaleLow[i])).attr("y2", (d, i) => gY(gPaleHigh[i]))
  .attr("stroke", "#6E74B4").attr("stroke-width", 0.8);
stackColumn(gRange, gY, gK14Top, col.k14);
percentAxis(gY);
label(58, 465.5, "GTEx skin estimates from human epidermis scRNA\u2212seq", 9.2);
label(13.5, 555, "Fraction clusters", 9, "middle", -90);
label(65.7, 559, "n = 860", 9);
svg.selectAll(null).data(gLegend).enter().append("rect")
  .attr("x", 65.7).attr("y", (d, i) => 565.5 + i * 8.95).attr("width", 8.4).attr("height", 8.7)
  .attr("fill", (d, i) => col[gLegendCols[i]]);
svg.selectAll(null).data(gLegend).enter().append("text")
  .attr("x", 79.3).attr("y", (d, i) => 572.3 + i * 8.95).attr("font-size", 6.9).style("fill", "#111").text(d => d);

const hY = d3.scaleLinear().domain([0, 100]).range([885.7, 710.3]);
const hRange = [60.3, 348];
const hSample = d3.scaleLinear().domain([0, 860]).range(hRange);
stackColumn(hRange, hY, [hTopAll], col.outer);
stackColumn(hRange, hY, hLeukTop, col.leuk);
stackColumn(hRange, hY, hEpiTop, col.epi);
svg.append("g").selectAll("line").data(hPaleAt).enter().append("line")
  .attr("x1", d => hSample(d)).attr("x2", d => hSample(d))
  .attr("y1", (d, i) => hY(hPaleLow[i])).attr("y2", hY(92))
  .attr("stroke", "#8CA3CF").attr("stroke-width", 0.9);
stackColumn(hRange, hY, hStemTop, col.stem);
// the 0 label sits against the page bottom, lift it so it is not clipped
percentAxis(hY).selectAll("text").filter(d => d === 0).attr("dy", "0.1em");
label(60.3, 705, "GTEx skin estimates from mouse skin scRNA\u2212seq", 9.2);
label(13.5, 798, "Fraction clusters", 9, "middle", -90);
const nh = label(66.7, 818.5, "", 9);
nh.append("tspan").attr("font-style", "italic").text("n");
nh.append("tspan").text(" = 860");
svg.selectAll(null).data(hLegend).enter().append("rect")
  .attr("x", 67).attr("y", (d, i) => 823 + i * 9.45).attr("width", 8.6).attr("height", 8.8)
  .attr("fill", (d, i) => col[hLegendCols[i]]).attr("stroke", "#231f20").attr("stroke-width", 0.7);
svg.selectAll(null).data(hLegend).enter().append("text")
  .attr("x", 80.7).attr("y", (d, i) => 829.8 + i * 9.45).attr("font-size", 6.9).style("fill", "#111").text(d => d);

// i heatmap
const heatX = d3.scaleBand().domain(heatCols).range([500.3, 665]);
const heatRows = [heatR1, heatR2, heatR3, heatR4, heatR5, heatR6];
const heatY = d3.scaleBand().domain(d3.range(heatRows.length)).range([562.7, 670]);
const heatColor = v => d3.interpolateRdBu((v + 1) / 2);
heatRows.forEach((row, r) => {
  svg.append("g").selectAll("rect").data(row).enter().append("rect")
    .attr("x", (d, i) => heatX(heatCols[i])).attr("y", heatY(r))
    .attr("width", heatX.bandwidth() + 0.2).attr("height", heatY.bandwidth() + 0.2)
    .attr("fill", d => heatColor(d));
});
heatCols.forEach(c => label(heatX(c) + heatX.bandwidth() / 2 + 3, 558.5, c, 8.9, "start", -90));
const labelY = d3.scalePoint().domain(heatRowLabels).range([569.7, 660.7]);
heatRowLabels.forEach(c => label(494.7, labelY(c) + 3, c, 9.1, "end"));

label(593, 442.5, "Estimate from human", 9.3, "middle");
label(564.7, 455.5, "High resolution", 6.8, "middle");
label(643, 455.5, "Collapsed resolution", 6.8, "middle");
label(386.5, 595, "High resolution", 6.8, "middle", -90);
label(378, 646, "Collapsed", 6.8, "middle", -90);
label(386, 646, "resolution", 6.8, "middle", -90);
label(366.5, 603, "Estimate from mouse", 9.3, "middle", -90);
const annot = [[498, 631, 465, 465, "#777", 2.4], [619, 633, 460, 460, col.leuk, 2], [636, 650, 460, 460, col.outer, 2], [652, 666, 460, 460, col.inner, 2],
  [396.3, 396.3, 562, 652, "#777", 2.4], [392, 392, 623, 637, col.leuk, 2.4], [392, 392, 639, 652, col.inner, 2.4], [392, 392, 654, 668, col.outer, 2.4]];
annot.forEach(d => svg.append("line").attr("x1", d[0]).attr("x2", d[1]).attr("y1", d[2]).attr("y2", d[3]).attr("stroke", d[4]).attr("stroke-width", d[5]));

// colour bar
const barX = d3.scaleLinear().domain([-1, 1]).range([678.3, 736]);
svg.append("g").selectAll("rect").data(d3.range(-1, 1, 0.04)).enter().append("rect")
  .attr("x", d => barX(d)).attr("y", 646.7).attr("width", barX(0.04) - barX(0) + 0.3).attr("height", 9.3)
  .attr("fill", d => heatColor(d));
const barAxis = svg.append("g").attr("transform", "translate(0,656)").call(d3.axisBottom(barX).tickValues([-1, -0.5, 0, 0.5, 1]).tickSize(0).tickPadding(4).tickFormat(d3.format("")));
barAxis.select(".domain").remove();
barAxis.selectAll("text").attr("font-size", 6.8).attr("font-family", "Liberation Sans").attr("fill", "#231f20");
label(709, 677.5, "Correlation", 6.7, "middle");

// j and k scatter
function scatter(box, xDom, yDom, ticksX, ticksY, core, points, gaps, rText) {
  const x = d3.scaleLinear().domain(xDom).range([box.l, box.r]);
  const y = d3.scaleLinear().domain(yDom).range([box.b, box.t]);
  const fmt = d3.format(".1f");
  const ax = svg.append("g").attr("transform", `translate(0,${box.b})`).call(d3.axisBottom(x).tickValues(ticksX).tickFormat(fmt).tickSize(3).tickPadding(4));
  const ay = svg.append("g").attr("transform", `translate(${box.l},0)`).call(d3.axisLeft(y).tickValues(ticksY).tickFormat(fmt).tickSize(3).tickPadding(4));
  [ax, ay].forEach(a => {
    a.select(".domain").remove();
    a.selectAll("text").attr("font-size", 9.2).attr("font-family", "Liberation Sans").attr("fill", "#231f20");
    a.selectAll("line").attr("stroke", "#555");
  });
  svg.append("line").attr("x1", box.l).attr("y1", box.b).attr("x2", box.r).attr("y2", box.t).attr("stroke", "#444").attr("stroke-width", 0.6);
  svg.append("path").attr("d", blob(x, y)(core)).attr("fill", "#000").attr("stroke", "#000").attr("stroke-width", 1);
  addDots(svg, x, y, points, "#000", 1.5);
  addDots(svg, x, y, gaps, "#fff", 0.8);
  svg.append("rect").attr("x", box.l).attr("y", box.t).attr("width", box.r - box.l).attr("height", box.b - box.t)
    .attr("fill", "none").attr("stroke", "#777").attr("stroke-width", 1);
  const t = label(box.l + 5, box.t + 9.5, "", 6.5);
  t.append("tspan").attr("font-style", "italic").text("R");
  t.append("tspan").text(rText);
}
scatter({ l: 419.3, r: 553.7, t: 731.3, b: 843.3 }, [-0.033, 0.783], [-0.029, 0.784], [0, 0.2, 0.4, 0.6], [0, 0.2, 0.4, 0.6], jCore, jPoints, jGaps, " = 0.89");
scatter({ l: 623.3, r: 757.3, t: 731.3, b: 843.3 }, [0.221, 1.037], [0.22, 1.034], [0.4, 0.6, 0.8, 1], [0.4, 0.6, 0.8, 1], kCore, kPoints, kGaps, " = 0.44");
label(486.7, 871.5, "Estimate from human", 9.1, "middle");
label(486.7, 883, "keratinocyte 14 population", 9.1, "middle");
label(365.5, 785, "Estimate from", 9.1, "middle", -90);
label(377, 785, "mouse stem cell of", 9.1, "middle", -90);
label(388.5, 785, "epidermis population", 9.1, "middle", -90);
label(690, 871.5, "Estimate from collapsed human", 9.1, "middle");
label(690, 883, "keratinocyte populations", 9.1, "middle");
label(573, 787, "Estimate from collapsed", 9.1, "middle", -90);
label(585, 787, "mouse epidermal", 9.1, "middle", -90);
label(597, 787, "cell populations", 9.1, "middle", -90);
</script>
</body>
</html>
